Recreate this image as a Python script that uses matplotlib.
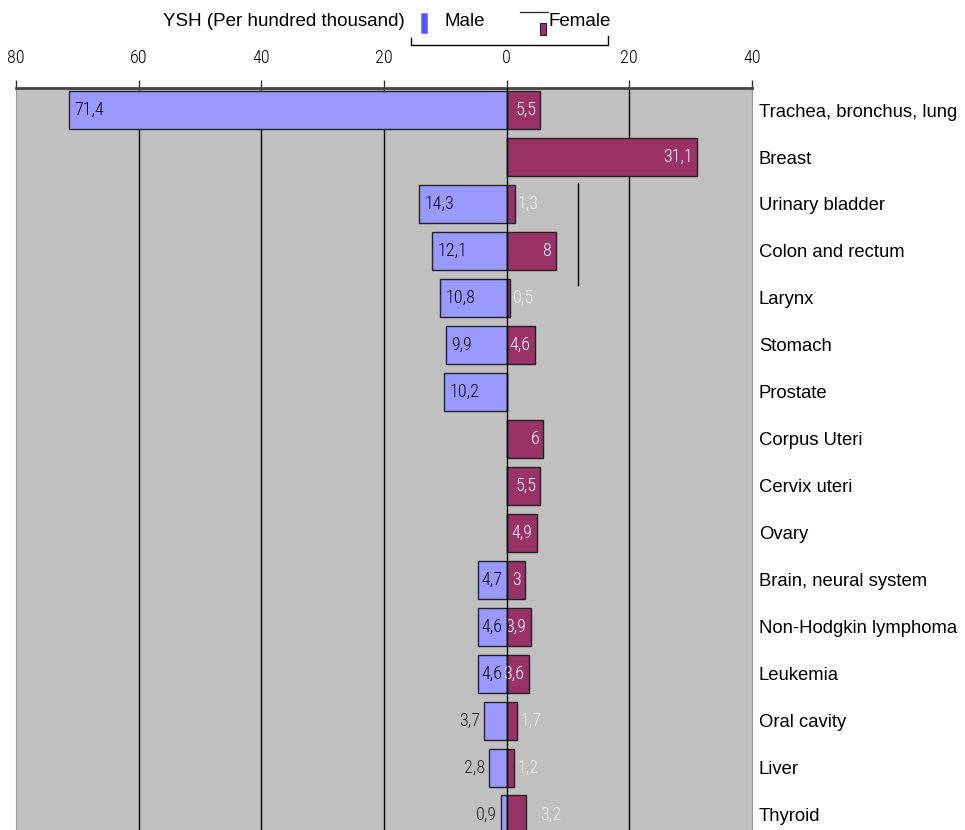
import matplotlib
matplotlib.use('Agg')
import matplotlib.pyplot as plt
from matplotlib.patches import Rectangle
from matplotlib.lines import Line2D

W, H = 965, 830

categories = ['Trachea, bronchus, lung', 'Breast', 'Urinary bladder', 'Colon and rectum',
              'Larynx', 'Stomach', 'Prostate', 'Corpus Uteri', 'Cervix uteri', 'Ovary',
              'Brain, neural system', 'Non-Hodgkin lymphoma', 'Leukemia', 'Oral cavity',
              'Liver', 'Thyroid']
male = [71.4, 0, 14.3, 12.1, 10.8, 9.9, 10.2, 0, 0, 0, 4.7, 4.6, 4.6, 3.7, 2.8, 0.9]
female = [5.5, 31.1, 1.3, 8, 0.5, 4.6, 0, 6, 5.5, 4.9, 3, 3.9, 3.6, 1.7, 1.2, 3.2]
xticks = [-80, -60, -40, -20, 0, 20, 40]

MALE_C = '#9999FF'
FEMALE_C = '#993366'
BG = '#C0C0C0'
NARROW = ['Roboto Condensed', 'DejaVu Sans']
SANS = ['Liberation Sans', 'DejaVu Sans']

# labels of these female bars sit outside the bar
female_outside = {2, 4, 13, 14, 15}


def fmt(v):
    return '{:g}'.format(v).replace('.', ',')


def px(x, y):
    # pixel coords (top-left origin) -> figure fraction
    return x / W, 1 - y / H


fig = plt.figure(figsize=(W / 100, H / 100), dpi=100)
ax = fig.add_axes([16 / W, 0, (752 - 16) / W, (830 - 88) / H])
ax.set_facecolor(BG)

y = list(range(len(categories)))
ax.barh(y, [-m for m in male], height=0.81, color=MALE_C, edgecolor='#222222', linewidth=1)
ax.barh(y, female, height=0.81, color=FEMALE_C, edgecolor='#222222', linewidth=1)

lbl = dict(va='center', fontsize=13, family=NARROW, fontweight='light')
for i in y:
    m = male[i]
    if m > 0:
        if m >= 4:
            pad = 0.9 if m > 8 else 0.5
            ax.text(-m + pad, i, fmt(m), ha='left', color='black', **lbl)
        else:
            ax.text(-m - 0.7, i, fmt(m), ha='right', color='#222222', **lbl)
    f = female[i]
    if f > 0:
        if i in female_outside:
            off = 2.2 if i == 15 else 0.5
            ax.text(f + off, i, fmt(f), ha='left', color='#EEEEEE', **lbl)
        else:
            ax.text(f - 0.7, i, fmt(f), ha='right', color='white', **lbl)

for g in [-60, -40, -20, 20]:
    ax.axvline(g, color='black', linewidth=1, zorder=0)
ax.axvline(0, color='black', linewidth=1, zorder=3)
# stray marker line inside the plot
ax.plot([11.6, 11.6], [1.55, 3.72], color='black', linewidth=1)

ax.set_xlim(-80, 40)
ax.set_ylim(15.33, -0.47)

ax.xaxis.tick_top()
ax.set_xticks(xticks)
ax.set_xticklabels([str(abs(t)) for t in xticks], family=NARROW, fontsize=13,
                   fontweight='light')
ax.tick_params(axis='x', direction='out', length=6, width=1, pad=9, colors='#333333',
               labelcolor='black')

ax.yaxis.tick_right()
ax.set_yticks(y)
ax.set_yticklabels(categories, family=SANS, fontsize=13.3)
ax.tick_params(axis='y', length=0, pad=5)

ax.spines['top'].set_color('#444444')
ax.spines['top'].set_linewidth(2)
ax.spines['left'].set_color('#999999')
ax.spines['right'].set_color('#999999')
ax.spines['bottom'].set_visible(False)

# legend drawn by hand
fig.text(*px(163, 22), 'YSH (Per hundred thousand)', ha='left', va='center',
         fontsize=13.5, family=SANS)
fig.add_artist(Rectangle(px(421, 33), 6 / W, 20 / H, transform=fig.transFigure,
                         facecolor='#5555FF', edgecolor='#7777FF', linewidth=0.5))
fig.text(*px(445, 22), 'Male', ha='left', va='center', fontsize=13.5, family=SANS)
fig.add_artist(Rectangle(px(540, 35), 6 / W, 12 / H, transform=fig.transFigure,
                         facecolor=FEMALE_C, edgecolor='#222222', linewidth=0.8))
fig.text(*px(548, 22), 'Female', ha='left', va='center', fontsize=13.5, family=SANS)
xs, ys = zip(px(411, 38), px(411, 45), px(608, 45), px(608, 36))
fig.add_artist(Line2D(xs, ys, transform=fig.transFigure, color='black', linewidth=1))
xs, ys = zip(px(520, 12), px(548, 12))
fig.add_artist(Line2D(xs, ys, transform=fig.transFigure, color='#333333', linewidth=1))

fig.savefig('out.png', dpi=100)
